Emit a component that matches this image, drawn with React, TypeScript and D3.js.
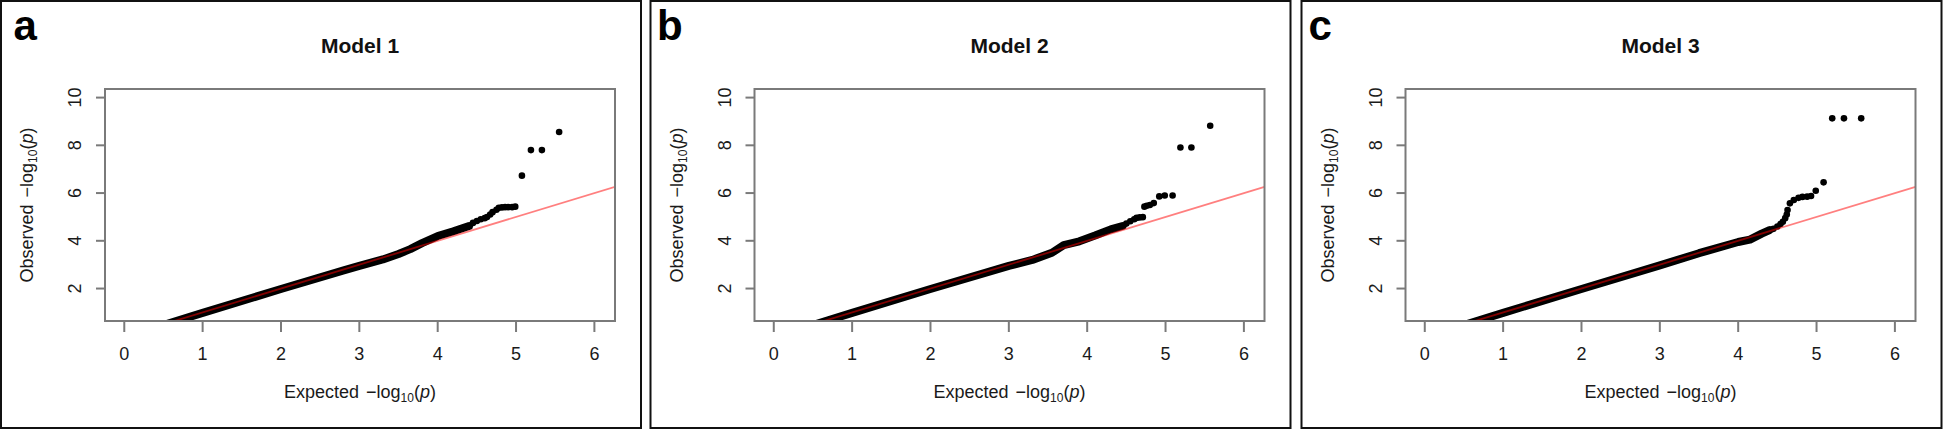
import React from "react";
import * as d3 from "d3";

// ---------- data ----------
const panelLabels = ["a", "b", "c"];
const modelTitles = ["Model 1", "Model 2", "Model 3"];
const xTicks = [0, 1, 2, 3, 4, 5, 6];
const yTicks = [2, 4, 6, 8, 10];

// dense part of each QQ cloud (expected vs observed -log10 p)
const model1BandExpected = [0.45, 1, 2, 2.8, 3.0, 3.3, 3.5, 3.65, 3.8, 4.0, 4.2, 4.4];
const model1BandObserved = [0.42, 0.98, 1.98, 2.76, 2.95, 3.22, 3.45, 3.65, 3.9, 4.2, 4.4, 4.62];
const model1TailExpected = [4.45, 4.5, 4.55, 4.6, 4.63, 4.67, 4.7, 4.75, 4.78, 4.82, 4.86, 4.9, 4.95, 4.99, 5.075, 5.19, 5.33, 5.55];
const model1TailObserved = [4.75, 4.83, 4.9, 4.95, 5.0, 5.1, 5.2, 5.3, 5.38, 5.4, 5.41, 5.41, 5.41, 5.43, 6.73, 7.8, 7.8, 8.56];

const model2BandExpected = [0.45, 1, 2, 3.0, 3.3, 3.55, 3.7, 3.9, 4.1, 4.3, 4.45];
const model2BandObserved = [0.42, 0.98, 1.98, 2.95, 3.2, 3.5, 3.82, 3.98, 4.22, 4.48, 4.62];
const model2TailExpected = [4.5, 4.55, 4.6, 4.63, 4.67, 4.71, 4.73, 4.76, 4.8, 4.85, 4.92, 4.99, 5.09, 5.19, 5.33, 5.57];
const model2TailObserved = [4.72, 4.82, 4.9, 4.96, 4.98, 4.99, 5.43, 5.47, 5.5, 5.58, 5.86, 5.9, 5.9, 7.91, 7.91, 8.82];

const model3BandExpected = [0.45, 1, 2, 3.0, 3.5, 4.0, 4.15, 4.3, 4.4];
const model3BandObserved = [0.42, 0.98, 1.98, 2.97, 3.48, 3.95, 4.05, 4.3, 4.45];
const model3TailExpected = [4.45, 4.5, 4.54, 4.57, 4.6, 4.62, 4.63, 4.66, 4.71, 4.77, 4.82, 4.88, 4.93, 4.99, 5.09, 5.2, 5.35, 5.57];
const model3TailObserved = [4.5, 4.6, 4.7, 4.8, 4.95, 5.1, 5.29, 5.57, 5.71, 5.8, 5.84, 5.85, 5.88, 6.1, 6.45, 9.13, 9.13, 9.13];

const models = [
  { bandX: model1BandExpected, bandY: model1BandObserved, tailX: model1TailExpected, tailY: model1TailObserved },
  { bandX: model2BandExpected, bandY: model2BandObserved, tailX: model2TailExpected, tailY: model2TailObserved },
  { bandX: model3BandExpected, bandY: model3BandObserved, tailX: model3TailExpected, tailY: model3TailObserved },
];

// ---------- layout ----------
const W = 1960;
const H = 430;
const panelLefts = [1, 650.5, 1301.5];
const panelWidth = 641;
const labelOffsets = [12.5, 6.5, 7];
const plotOffsetX = 104;
const plotTop = 89;
const plotW = 510;
const plotH = 232;
const FONT = "'Liberation Sans', Arial, Helvetica, sans-serif";

const x = d3.scaleLinear().domain([-0.246, 6.263]).range([0, plotW]);
const y = d3.scaleLinear().domain([0.64, 10.36]).range([plotH, 0]);

function AxisTitle({ word }: { word: string }) {
  return (
    <>
      {word}
      <tspan dx={7}>−log</tspan>
      <tspan fontSize={12} dy={4}>10</tspan>
      <tspan dy={-4}>(</tspan>
      <tspan fontStyle="italic">p</tspan>
      <tspan>)</tspan>
    </>
  );
}

function Panel({ i }: { i: number }) {
  const left = panelLefts[i];
  const px = left + plotOffsetX;
  const m = models[i];
  const band = m.bandX.map((v, k) => [v, m.bandY[k]] as [number, number]);
  const line = d3.line<[number, number]>().x((d) => x(d[0])).y((d) => y(d[1]));
  const tail = m.tailX.map((v, k) => [v, m.tailY[k]]);
  const [d0, d1] = x.domain();
  const clipId = `clip${i}`;
  return (
    <g>
      <rect x={left} y={1} width={panelWidth - 1} height={427} fill="white" stroke="#111" strokeWidth={2} />
      <text x={left + labelOffsets[i]} y={40} fontFamily={FONT} fontWeight="bold" fontSize={42} fill="#000">
        {panelLabels[i]}
      </text>
      <text x={px + plotW / 2} y={53} textAnchor="middle" fontFamily={FONT} fontWeight="bold" fontSize={21} fill="#111">
        {modelTitles[i]}
      </text>
      <g transform={`translate(${px},${plotTop})`}>
        <defs>
          <clipPath id={clipId}>
            <rect x={0} y={0} width={plotW} height={plotH} />
          </clipPath>
        </defs>
        <g clipPath={`url(#${clipId})`}>
          <path d={line(band) || ""} fill="none" stroke="#000" strokeWidth={8} strokeLinecap="round" strokeLinejoin="round" />
          {tail.map((p, k) => (
            <circle key={k} cx={x(p[0])} cy={y(p[1])} r={3.3} fill="#000" />
          ))}
          <line x1={x(d0)} y1={y(d0)} x2={x(d1)} y2={y(d1)} stroke="red" strokeOpacity={0.5} strokeWidth={1.8} />
        </g>
        <rect x={0} y={0} width={plotW} height={plotH} fill="none" stroke="#7a7a7a" strokeWidth={2} />
        {xTicks.map((t) => (
          <g key={t}>
            <line x1={x(t)} x2={x(t)} y1={plotH} y2={plotH + 11} stroke="#7a7a7a" strokeWidth={2} />
            <text x={x(t)} y={plotH + 39} textAnchor="middle" fontFamily={FONT} fontSize={18} fill="#1a1a1a">
              {t}
            </text>
          </g>
        ))}
        {yTicks.map((t) => (
          <g key={t}>
            <line x1={-9} x2={0} y1={y(t)} y2={y(t)} stroke="#7a7a7a" strokeWidth={2} />
            <text transform={`translate(${-24},${y(t)}) rotate(-90)`} textAnchor="middle" fontFamily={FONT} fontSize={18} fill="#1a1a1a">
              {t}
            </text>
          </g>
        ))}
        <text x={plotW / 2} y={plotH + 77} textAnchor="middle" fontFamily={FONT} fontSize={18} fill="#1a1a1a">
          <AxisTitle word="Expected" />
        </text>
        <text transform={`translate(${-72},${plotH / 2}) rotate(-90)`} textAnchor="middle" fontFamily={FONT} fontSize={18} fill="#1a1a1a">
          <AxisTitle word="Observed" />
        </text>
      </g>
    </g>
  );
}

export default function App() {
  return (
    <svg width={W} height={H} style={{ position: "absolute", left: 0, top: 0, background: "white" }}>
      <rect x={0} y={0} width={W} height={H} fill="white" />
      {[0, 1, 2].map((i) => (
        <Panel key={i} i={i} />
      ))}
    </svg>
  );
}
